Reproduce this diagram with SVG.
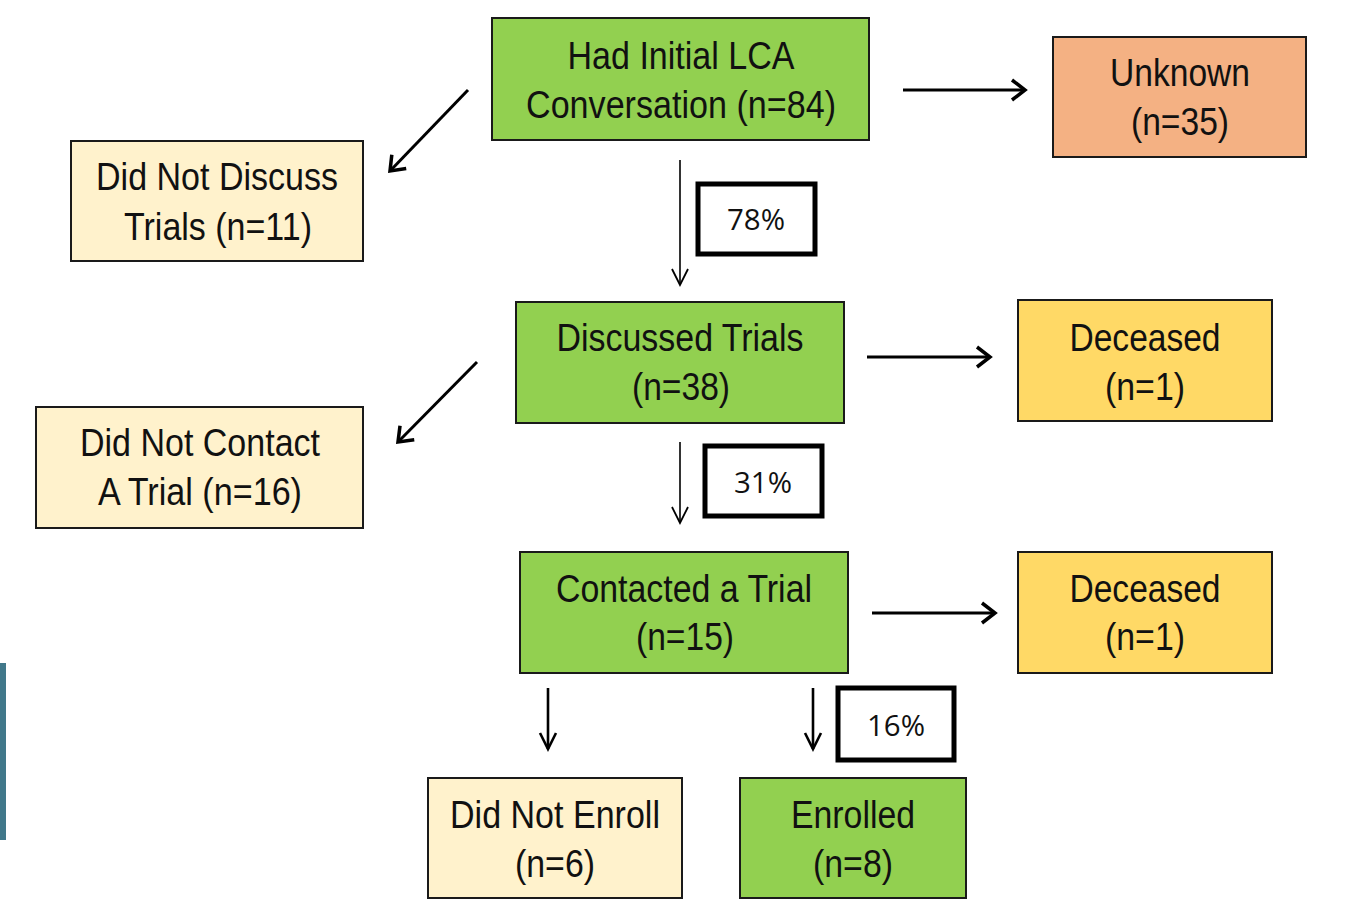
<svg xmlns="http://www.w3.org/2000/svg" width="1348" height="907" viewBox="0 0 1348 907">
<defs>
<style>
.box{stroke:#1a1a1a;stroke-width:2}
.green{fill:#92D050}
.cream{fill:#FFF2CC}
.orange{fill:#F4B183}
.yellow{fill:#FFD966}
.lbl{font-family:"Liberation Sans",Arial,sans-serif;font-size:38px;fill:#111;text-anchor:middle}
.pct{fill:#fff;stroke:#000;stroke-width:5}
.pctt{font-family:"Open Sans","Liberation Sans",sans-serif;font-size:30px;fill:#111;text-anchor:middle}
.thick{stroke:#000;stroke-width:3;fill:none}
.thin{stroke:#000;stroke-width:1.6;fill:none}
</style>
<marker id="hk" markerUnits="userSpaceOnUse" orient="auto" refX="0" refY="0" markerWidth="30" markerHeight="30" viewBox="-20 -15 30 30" overflow="visible">
<path d="M-13,-10 L0,0 L-13,10" fill="none" stroke="#000" stroke-width="3.5"/>
</marker>
<marker id="hn" markerUnits="userSpaceOnUse" orient="auto" refX="0" refY="0" markerWidth="30" markerHeight="30" viewBox="-20 -15 30 30" overflow="visible">
<path d="M-16,-8 L0,0 L-16,8" fill="none" stroke="#000" stroke-width="1.8"/>
</marker>
<marker id="hm" markerUnits="userSpaceOnUse" orient="auto" refX="0" refY="0" markerWidth="30" markerHeight="30" viewBox="-20 -15 30 30" overflow="visible">
<path d="M-16,-8 L0,0 L-16,8" fill="none" stroke="#000" stroke-width="2.6"/>
</marker>
</defs>
<rect x="0" y="0" width="1348" height="907" fill="#fff"/>
<rect x="0" y="663" width="6" height="177" fill="#41788A"/>

<g id="connectors">
<line class="thick" x1="468" y1="90" x2="390" y2="171" marker-end="url(#hk)"/>
<line class="thick" x1="903" y1="90" x2="1025" y2="90" marker-end="url(#hk)"/>
<line class="thin" x1="680" y1="160" x2="680" y2="285" marker-end="url(#hn)"/>
<line class="thick" x1="477" y1="362" x2="398" y2="442" marker-end="url(#hk)"/>
<line class="thick" x1="867" y1="357" x2="990" y2="357" marker-end="url(#hk)"/>
<line class="thin" x1="680" y1="442" x2="680" y2="523" marker-end="url(#hn)"/>
<line class="thick" x1="872" y1="613" x2="995" y2="613" marker-end="url(#hk)"/>
<line class="thick" style="stroke-width:2.6" x1="548" y1="688" x2="548" y2="749" marker-end="url(#hm)"/>
<line class="thick" style="stroke-width:2.6" x1="813" y1="688" x2="813" y2="749" marker-end="url(#hm)"/>
</g>

<g id="pct78">
<rect class="pct" x="698" y="184" width="117" height="70"/>
<text class="pctt" x="756" y="230" textLength="58" lengthAdjust="spacingAndGlyphs">78%</text>
</g>
<g id="pct31">
<rect class="pct" x="705" y="446" width="117" height="70"/>
<text class="pctt" x="763" y="493" textLength="58" lengthAdjust="spacingAndGlyphs">31%</text>
</g>
<g id="pct16">
<rect class="pct" x="838" y="688" width="116" height="72"/>
<text class="pctt" x="896" y="736" textLength="58" lengthAdjust="spacingAndGlyphs">16%</text>
</g>

<g id="initial">
<rect class="box green" x="492" y="18" width="377" height="122"/>
<text class="lbl" x="681" y="69" textLength="227" lengthAdjust="spacingAndGlyphs">Had Initial LCA</text>
<text class="lbl" x="681" y="118" textLength="310" lengthAdjust="spacingAndGlyphs">Conversation (n=84)</text>
</g>
<g id="unknown">
<rect class="box orange" x="1053" y="37" width="253" height="120"/>
<text class="lbl" x="1180" y="86" textLength="140" lengthAdjust="spacingAndGlyphs">Unknown</text>
<text class="lbl" x="1180" y="135" textLength="98" lengthAdjust="spacingAndGlyphs">(n=35)</text>
</g>
<g id="notdiscuss">
<rect class="box cream" x="71" y="141" width="292" height="120"/>
<text class="lbl" x="217" y="190" textLength="242" lengthAdjust="spacingAndGlyphs">Did Not Discuss</text>
<text class="lbl" x="218" y="240" textLength="188" lengthAdjust="spacingAndGlyphs">Trials (n=11)</text>
</g>
<g id="discussed">
<rect class="box green" x="516" y="302" width="328" height="121"/>
<text class="lbl" x="680" y="351" textLength="247" lengthAdjust="spacingAndGlyphs">Discussed Trials</text>
<text class="lbl" x="681" y="400" textLength="98" lengthAdjust="spacingAndGlyphs">(n=38)</text>
</g>
<g id="deceased1">
<rect class="box yellow" x="1018" y="300" width="254" height="121"/>
<text class="lbl" x="1145" y="351" textLength="151" lengthAdjust="spacingAndGlyphs">Deceased</text>
<text class="lbl" x="1145" y="400" textLength="80" lengthAdjust="spacingAndGlyphs">(n=1)</text>
</g>
<g id="notcontact">
<rect class="box cream" x="36" y="407" width="327" height="121"/>
<text class="lbl" x="200" y="456" textLength="240" lengthAdjust="spacingAndGlyphs">Did Not Contact</text>
<text class="lbl" x="200" y="505" textLength="204" lengthAdjust="spacingAndGlyphs">A Trial (n=16)</text>
</g>
<g id="contacted">
<rect class="box green" x="520" y="552" width="328" height="121"/>
<text class="lbl" x="684" y="602" textLength="256" lengthAdjust="spacingAndGlyphs">Contacted a Trial</text>
<text class="lbl" x="685" y="650" textLength="98" lengthAdjust="spacingAndGlyphs">(n=15)</text>
</g>
<g id="deceased2">
<rect class="box yellow" x="1018" y="552" width="254" height="121"/>
<text class="lbl" x="1145" y="602" textLength="151" lengthAdjust="spacingAndGlyphs">Deceased</text>
<text class="lbl" x="1145" y="650" textLength="80" lengthAdjust="spacingAndGlyphs">(n=1)</text>
</g>
<g id="notenroll">
<rect class="box cream" x="428" y="778" width="254" height="120"/>
<text class="lbl" x="555" y="828" textLength="210" lengthAdjust="spacingAndGlyphs">Did Not Enroll</text>
<text class="lbl" x="555" y="877" textLength="80" lengthAdjust="spacingAndGlyphs">(n=6)</text>
</g>
<g id="enrolled">
<rect class="box green" x="740" y="778" width="226" height="120"/>
<text class="lbl" x="853" y="828" textLength="124" lengthAdjust="spacingAndGlyphs">Enrolled</text>
<text class="lbl" x="853" y="877" textLength="80" lengthAdjust="spacingAndGlyphs">(n=8)</text>
</g>
</svg>
